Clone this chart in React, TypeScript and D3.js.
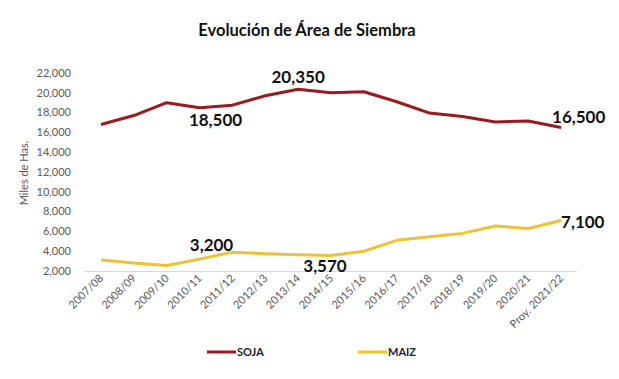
import React from "react";
import * as d3 from "d3";

const categories = [
  "2007/08", "2008/09", "2009/10", "2010/11", "2011/12", "2012/13", "2013/14",
  "2014/15", "2015/16", "2016/17", "2017/18", "2018/19", "2019/20", "2020/21", "Proy. 2021/22",
];
const soja = [16800, 17700, 19000, 18500, 18750, 19700, 20350, 20000, 20100, 19100, 17950, 17600, 17050, 17150, 16500];
const maiz = [3100, 2800, 2550, 3200, 3900, 3750, 3650, 3570, 4000, 5100, 5450, 5800, 6550, 6300, 7100];
const yTicks = [2000, 4000, 6000, 8000, 10000, 12000, 14000, 16000, 18000, 20000, 22000];
const seriesNames = ["SOJA", "MAIZ"];

// annotation: series index, category index, text
const annotations = [
  { s: 0, i: 3, text: "18,500" },
  { s: 0, i: 6, text: "20,350" },
  { s: 0, i: 14, text: "16,500" },
  { s: 1, i: 3, text: "3,200" },
  { s: 1, i: 7, text: "3,570" },
  { s: 1, i: 14, text: "7,100" },
];
const annOffsets = [
  { dx: 16, dy: 18, anchor: "middle" },
  { dx: 0, dy: -6, anchor: "middle" },
  { dx: -9, dy: -4, anchor: "start" },
  { dx: 12, dy: -8, anchor: "middle" },
  { dx: -6, dy: 17, anchor: "middle" },
  { dx: 0, dy: 7, anchor: "start" },
];

const W = 619;
const H = 379;
const colors = ["#9C1A1F", "#EFC232"];
const font = "Lato, 'Open Sans', sans-serif";

export default function App() {
  const x = d3.scalePoint<string>().domain(categories).range([84.5, 577.5]).padding(0.5);
  const y = d3.scaleLinear().domain([2000, 22000]).range([271, 73]);
  const line = d3
    .line<number>()
    .x((_, i) => x(categories[i]) as number)
    .y((d) => y(d));
  const fmt = d3.format(",");
  const data = [soja, maiz];

  return (
    <svg width={W} height={H} style={{ position: "absolute", left: 0, top: 0, background: "#fff" }} fontFamily={font}>
      <rect width={W} height={H} fill="#fff" />
      <text x={307} y={36} textAnchor="middle" fontSize={16.5} fontWeight="bold" fill="#111">
        Evolución de Área de Siembra
      </text>
      {yTicks.map((t) => (
        <text key={t} x={71} y={y(t)} dy="0.35em" textAnchor="end" fontSize={11} fill="#595959">
          {fmt(t)}
        </text>
      ))}
      <text
        transform={`translate(28,173) rotate(-90)`}
        textAnchor="middle"
        fontSize={11}
        fill="#595959"
      >
        Miles de Has.
      </text>
      <line x1={84} x2={577} y1={271.5} y2={271.5} stroke="#D9D9D9" strokeWidth={1} />
      {categories.map((c) => (
        <text
          key={c}
          transform={`translate(${(x(c) as number) + 3},${279}) rotate(-45)`}
          textAnchor="end"
          fontSize={11}
          fill="#595959"
        >
          {c}
        </text>
      ))}
      {data.map((d, k) => (
        <path key={k} d={line(d) || ""} fill="none" stroke={colors[k]} strokeWidth={3} strokeLinejoin="round" />
      ))}
      {annotations.map((a, j) => (
        <text
          key={j}
          x={(x(categories[a.i]) as number) + annOffsets[j].dx}
          y={y(data[a.s][a.i]) + annOffsets[j].dy}
          textAnchor={annOffsets[j].anchor as any}
          fontSize={17}
          fontWeight="bold"
          fill="#111"
        >
          {a.text}
        </text>
      ))}
      {seriesNames.map((n, k) => (
        <g key={n} transform={`translate(${207 + k * 151},352)`}>
          <line x1={0} x2={29} y1={0} y2={0} stroke={colors[k]} strokeWidth={3} />
          <text x={30} y={0} dy="0.35em" fontSize={11} fontWeight="bold" fill="#222">
            {n}
          </text>
        </g>
      ))}
    </svg>
  );
}
